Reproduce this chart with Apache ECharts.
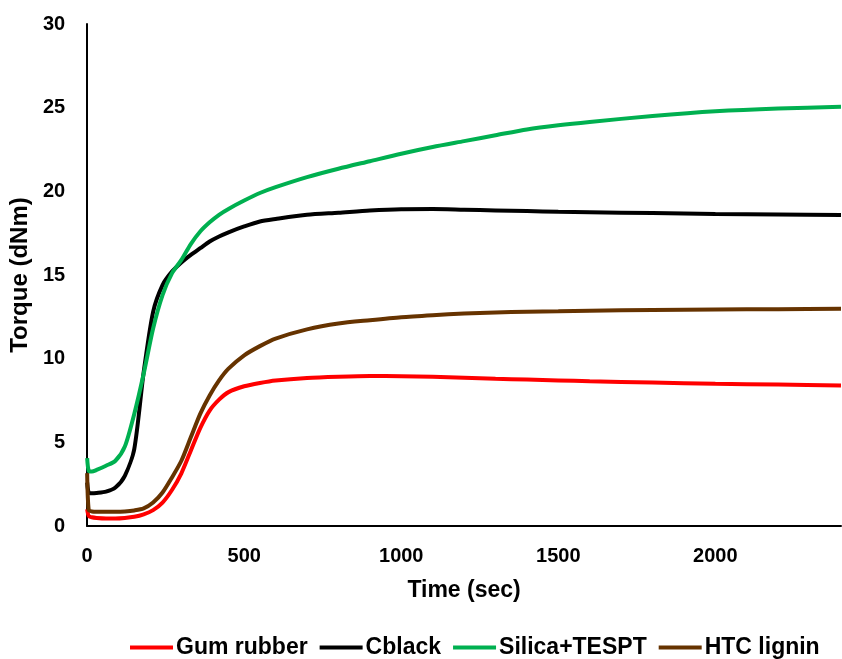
<!DOCTYPE html>
<html>
<head>
<meta charset="utf-8">
<script src="https://cdn.jsdelivr.net/npm/echarts@6/dist/echarts.min.js"></script>
<style>
  html, body { margin: 0; padding: 0; background: #fff; }
  #chart { width: 842px; height: 659px; }
</style>
</head>
<body>
<div id="chart"></div>
<script>
// Cure time (sec) shared by all four compounds
const timeSec = [0, 5, 15, 30, 60, 90, 120, 150, 180, 210, 240, 270, 300, 330, 360, 390, 420, 450,
  500, 550, 600, 700, 800, 900, 1000, 1100, 1200, 1300, 1400, 1500, 1600, 1800, 2000, 2200, 2400];

// Torque (dNm) for each compound
const gumRubber = [1.0, 0.6, 0.52, 0.48, 0.45, 0.45, 0.48, 0.55, 0.7, 0.95, 1.4, 2.15, 3.15, 4.5, 5.85, 6.9, 7.55, 8.0,
  8.35, 8.55, 8.7, 8.85, 8.92, 8.96, 8.95, 8.92, 8.86, 8.8, 8.75, 8.7, 8.65, 8.57, 8.5, 8.45, 8.39];
const cblack = [2.6, 2.0, 1.95, 1.97, 2.05, 2.3, 3.0, 4.6, 9.2, 12.8, 14.4, 15.2, 15.75, 16.2, 16.6, 17.0, 17.3, 17.55,
  17.9, 18.2, 18.35, 18.6, 18.72, 18.85, 18.93, 18.94, 18.9, 18.86, 18.82, 18.78, 18.75, 18.7, 18.65, 18.62, 18.58];
const silicaTespt = [4.05, 3.3, 3.25, 3.35, 3.6, 3.9, 4.75, 6.7, 9.1, 11.8, 13.8, 15.1, 15.9, 16.85, 17.6, 18.15, 18.6, 18.95,
  19.45, 19.9, 20.25, 20.85, 21.35, 21.8, 22.25, 22.65, 23.0, 23.35, 23.7, 23.95, 24.15, 24.5, 24.78, 24.95, 25.05];
const htcLignin = [3.16, 0.95, 0.87, 0.85, 0.85, 0.85, 0.87, 0.93, 1.05, 1.4, 2.0, 2.9, 3.9, 5.3, 6.7, 7.8, 8.7, 9.4,
  10.2, 10.75, 11.2, 11.75, 12.1, 12.3, 12.48, 12.6, 12.7, 12.76, 12.81, 12.84, 12.87, 12.91, 12.94, 12.96, 12.98];

const seriesNames = ['Gum rubber', 'Cblack', 'Silica+TESPT', 'HTC lignin'];
const seriesValues = [gumRubber, cblack, silicaTespt, htcLignin];
const seriesColors = ['#FF0000', '#000000', '#00B050', '#663300'];

const FONT = '"Liberation Sans", Arial, sans-serif';

const chart = echarts.init(document.getElementById('chart'), null, { renderer: 'canvas' });

chart.setOption({
  animation: false,
  backgroundColor: '#ffffff',
  textStyle: { fontFamily: FONT },
  grid: { left: 84, right: 1, top: 24, bottom: 133 },
  legend: {
    data: seriesNames,
    left: 130,
    top: 636,
    padding: 0,
    icon: 'rect',
    itemWidth: 43,
    itemHeight: 4,
    itemGap: 12,
    textStyle: { fontFamily: FONT, fontWeight: 'bold', fontSize: 23, color: '#000', padding: [0, 0, 0, -2] }
  },
  xAxis: {
    type: 'value',
    min: 0,
    max: 2400,
    interval: 500,
    name: 'Time (sec)',
    nameLocation: 'middle',
    nameGap: 53,
    nameTextStyle: { fontFamily: FONT, fontWeight: 'bold', fontSize: 23, color: '#000' },
    axisLine: { show: true, onZero: false, lineStyle: { color: '#000', width: 2 } },
    axisTick: { show: false },
    splitLine: { show: false },
    axisLabel: {
      showMaxLabel: false, margin: 20, fontFamily: FONT, fontWeight: 'bold', fontSize: 20, color: '#000',
      formatter: v => String(v)
    }
  },
  yAxis: {
    type: 'value',
    min: 0,
    max: 30,
    interval: 5,
    name: 'Torque (dNm)',
    nameLocation: 'middle',
    nameGap: 41,
    nameTextStyle: { fontFamily: FONT, fontWeight: 'bold', fontSize: 24, color: '#000' },
    axisLine: { show: true, lineStyle: { color: '#000', width: 2 } },
    axisTick: { show: false },
    splitLine: { show: false },
    axisLabel: { margin: 22, fontFamily: FONT, fontWeight: 'bold', fontSize: 20, color: '#000' }
  },
  series: seriesNames.map((name, i) => ({
    name: name,
    type: 'line',
    data: timeSec.map((t, k) => [t, seriesValues[i][k]]),
    showSymbol: false,
    symbol: 'none',
    smooth: 0.25,
    color: seriesColors[i],
    lineStyle: { color: seriesColors[i], width: 4 },
    z: 2 + i
  }))
});
</script>
</body>
</html>
